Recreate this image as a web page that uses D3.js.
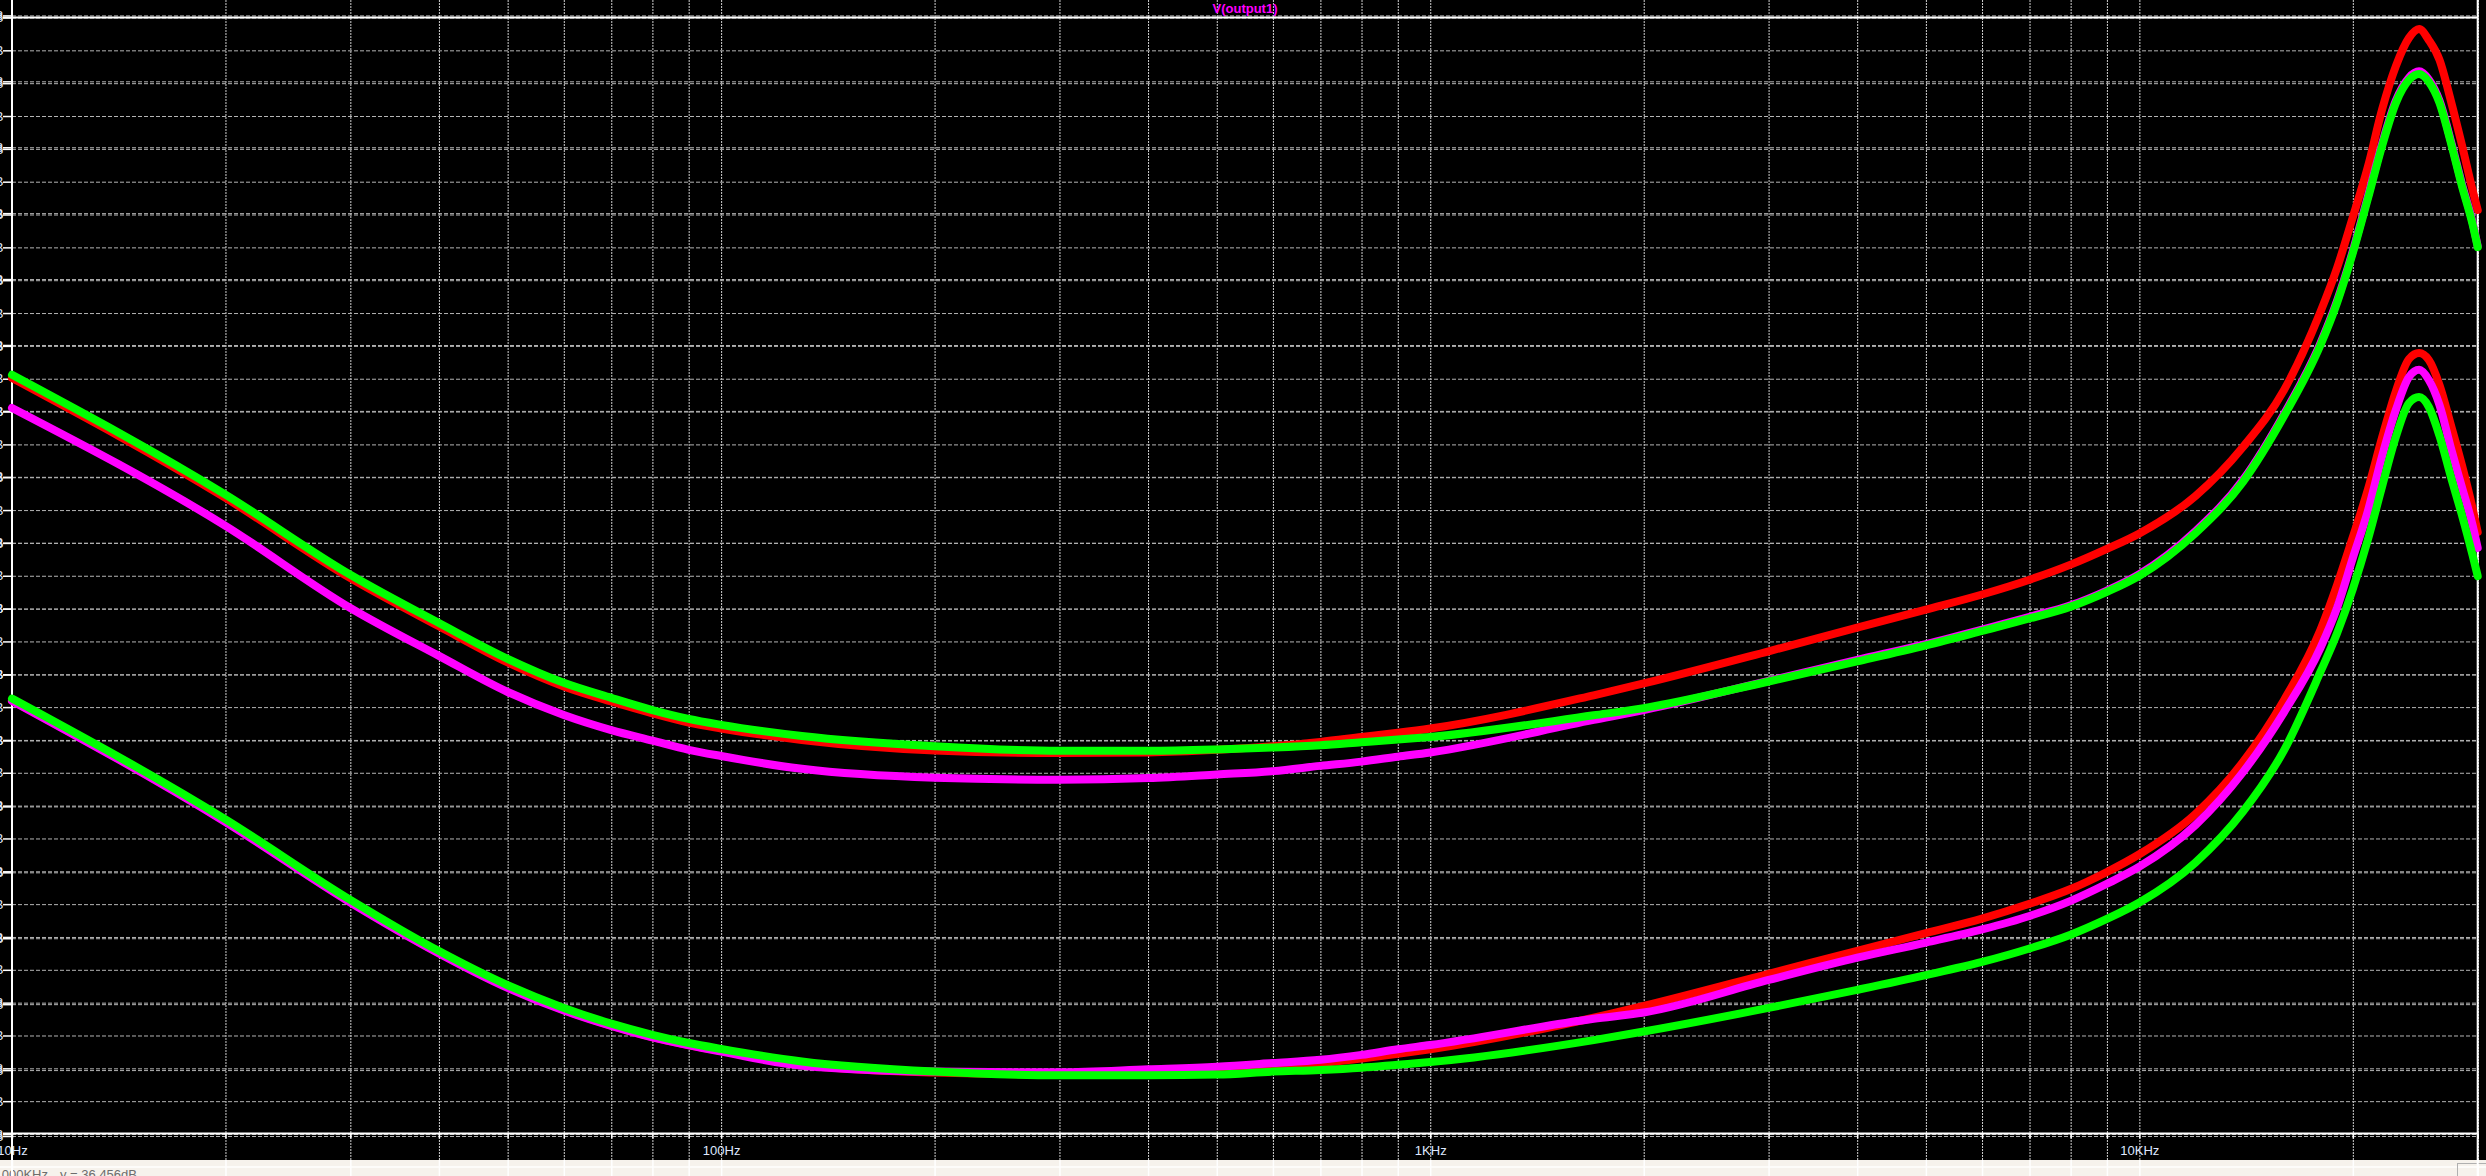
<!DOCTYPE html>
<html lang="en">
<head>
<meta charset="utf-8">
<style>
  body { margin: 0; background: #000; overflow: hidden; }
  svg { display: block; }
  text { font-family: "Liberation Sans", Arial, sans-serif; }
  .domain { display: none; }
  .grid-a line, .grid-b line { stroke: #b4b4b4; stroke-dasharray: 4,2; }
  .grid-v line { stroke: #cfcfcf; stroke-dasharray: 2,1; }
  .ticks line { stroke: #fff; stroke-width: 1.5; }
  .ticks text { fill: #dfe8ff; font-size: 13px; }
  .bar-lines line { stroke: #fff; stroke-width: 1.5; }
</style>
</head>
<body>
<svg width="2486" height="1176"></svg>
<script src="https://d3js.org/d3.v7.min.js"></script>
<script>
// frequency points (Hz)
var freqs = [10, 20, 30, 40, 50, 60, 70, 80, 90, 100, 130, 200, 300, 400, 500, 600, 700, 800, 900, 1000,
  1700, 2000, 3000, 4000, 5000, 6000, 7000, 8000, 9000, 10000, 12000, 14000, 16000, 18000, 19000, 20000,
  21000, 22000, 23000, 24000, 24800, 25600, 26500, 27500, 28500, 29500, 30000]

// magnitude in dB
var upperRed = [41.02, 37.37, 34.93, 33.46, 32.36, 31.63, 31.17, 30.81, 30.53, 30.35, 30.00, 29.68, 29.60, 29.62,
  29.70, 29.81, 29.94, 30.09, 30.22, 30.35, 31.36, 31.72, 32.70, 33.42, 33.97, 34.43, 34.88, 35.34, 35.82, 36.29,
  37.43, 38.92, 40.66, 43.03, 44.37, 45.92, 47.45, 49.21, 50.52, 51.38, 51.65, 51.31, 50.71, 49.46, 48.12, 46.75, 46.14]
var upperMagenta = [40.11, 36.52, 34.02, 32.56, 31.46, 30.76, 30.30, 29.98, 29.70, 29.51, 29.12, 28.85, 28.79, 28.84,
  28.95, 29.05, 29.21, 29.34, 29.49, 29.62, 30.61, 30.91, 31.80, 32.44, 32.92, 33.36, 33.75, 34.10, 34.55, 35.05,
  36.36, 37.92, 39.93, 42.08, 43.37, 44.89, 46.55, 48.17, 49.47, 50.17, 50.36, 50.11, 49.47, 48.24, 46.93, 45.77, 45.04]
var upperGreen = [41.12, 37.47, 35.03, 33.56, 32.47, 31.74, 31.28, 30.91, 30.64, 30.46, 30.12, 29.81, 29.67, 29.67,
  29.71, 29.77, 29.84, 29.93, 30.01, 30.09, 30.75, 30.97, 31.78, 32.39, 32.88, 33.32, 33.70, 34.06, 34.51, 35.00,
  36.30, 37.86, 39.87, 42.02, 43.31, 44.83, 46.48, 48.10, 49.40, 50.10, 50.28, 50.04, 49.40, 48.18, 46.87, 45.71, 45.01]
var lowerRed = [31.20, 27.52, 25.07, 23.51, 22.47, 21.78, 21.30, 20.95, 20.71, 20.53, 20.11, 19.87, 19.81, 19.89,
  20.00, 20.07, 20.16, 20.30, 20.44, 20.58, 21.54, 21.90, 22.88, 23.58, 24.12, 24.56, 25.01, 25.46, 25.98, 26.52,
  27.75, 29.33, 31.22, 33.35, 34.72, 36.18, 37.62, 39.22, 40.62, 41.60, 41.78, 41.57, 40.81, 39.59, 38.37, 37.06, 36.33]
var lowerMagenta = [31.19, 27.50, 25.05, 23.50, 22.45, 21.76, 21.29, 20.94, 20.70, 20.51, 20.08, 19.90, 19.88, 19.97,
  20.05, 20.16, 20.26, 20.41, 20.58, 20.71, 21.51, 21.70, 22.69, 23.37, 23.83, 24.23, 24.64, 25.10, 25.62, 26.14,
  27.41, 29.02, 30.85, 32.80, 34.02, 35.54, 36.97, 38.65, 40.05, 41.05, 41.27, 40.96, 40.20, 38.89, 37.70, 36.55, 35.85]
var lowerGreen = [31.26, 27.58, 25.13, 23.57, 22.53, 21.84, 21.36, 21.02, 20.77, 20.59, 20.21, 19.90, 19.79, 19.79,
  19.81, 19.90, 19.95, 20.02, 20.11, 20.19, 20.86, 21.12, 21.84, 22.39, 22.84, 23.24, 23.65, 24.07, 24.55, 25.05,
  26.27, 27.82, 29.69, 32.07, 33.25, 34.60, 36.10, 37.73, 39.23, 40.26, 40.44, 40.14, 39.26, 38.01, 36.85, 35.63, 34.99]

var xTicks = [10, 100, 1000, 10000]
var xTickLabels = ['10Hz', '100Hz', '1KHz', '10KHz']
var title = 'V(output1)'
var statusX = 'x = 10.000KHz'
var statusY = 'y = 36.456dB'

var W = 2486, H = 1176
var plotLeft = 12, plotRight = 2477.7, plotTop = 17.5, plotBottom = 1134, barTop = 1160

var svg = d3.select('svg')

var x = d3.scaleLog().domain([10, 30000]).range([plotLeft, plotRight])
var y = d3.scaleLinear().domain([18, 52]).range([plotBottom, plotTop])
// second (overlaid) scale whose grid shows as the doubled lines
var y2 = d3.scaleLinear().domain([0, 34]).range([1136, 15.4])

var gridFreqs = []
xTicks.forEach(function (d) {
  for (var k = 1; k < 10; k++) if (d * k <= 30000) gridFreqs.push(d * k)
})
gridFreqs.push(30000)

var yTicks = d3.range(18, 53)
var y2Ticks = d3.range(0, 35, 2)

// status bar
svg.append('rect').attr('x', 0).attr('y', barTop).attr('width', W).attr('height', H - barTop).attr('fill', '#f6f2ec')
svg.append('line').attr('x1', 0).attr('x2', W).attr('y1', 1167).attr('y2', 1167).attr('stroke', '#fff').attr('stroke-width', 1.5)
svg.append('g').attr('class', 'bar-lines').attr('transform', 'translate(0,' + barTop + ')')
  .call(d3.axisBottom(x).tickValues(gridFreqs).tickSize(H - barTop).tickFormat(''))
svg.append('text').attr('x', 48).attr('y', 1179).attr('text-anchor', 'end')
  .attr('fill', '#6d6d6d').style('font-size', '13px').text(statusX)
svg.append('text').attr('x', 60).attr('y', 1179)
  .attr('fill', '#6d6d6d').style('font-size', '13px').text(statusY)
svg.append('rect').attr('x', 2457.5).attr('y', 1163.5).attr('width', 40).attr('height', 20)
  .attr('fill', 'none').attr('stroke', '#b0b0b0')

// vertical grid
svg.append('g').attr('class', 'grid-v').attr('transform', 'translate(0,' + barTop + ')')
  .call(d3.axisBottom(x).tickValues(gridFreqs).tickSize(-barTop).tickFormat(''))

// horizontal grids
svg.append('g').attr('class', 'grid-b').attr('transform', 'translate(' + plotLeft + ',0)')
  .call(d3.axisLeft(y2).tickValues(y2Ticks).tickSize(-(plotRight - plotLeft)).tickFormat(''))
svg.append('g').attr('class', 'grid-a').attr('transform', 'translate(' + plotLeft + ',0)')
  .call(d3.axisLeft(y).tickValues(yTicks).tickSize(-(plotRight - plotLeft)).tickFormat(''))

// left ticks and (clipped) labels
svg.append('g').attr('class', 'ticks').attr('transform', 'translate(' + plotLeft + ',0)')
  .call(d3.axisLeft(y2).tickValues(y2Ticks).tickSize(9).tickPadding(-0.5).tickFormat(function (d) { return d + 'dB' }))
svg.append('g').attr('class', 'ticks').attr('transform', 'translate(' + plotLeft + ',0)')
  .call(d3.axisLeft(y).tickValues(yTicks).tickSize(9).tickPadding(-0.5).tickFormat(function (d) { return d + 'dB' }))

// bottom ticks and labels
svg.append('g').attr('class', 'ticks').attr('transform', 'translate(0,1133.5)')
  .call(d3.axisBottom(x).tickValues(gridFreqs).tickSize(5).tickFormat(''))
svg.append('g').attr('class', 'ticks').attr('transform', 'translate(0,1133.5)')
  .call(d3.axisBottom(x).tickValues(xTicks).tickSize(0).tickPadding(12.5)
    .tickFormat(function (d, i) { return xTickLabels[i] }))

// plot frame
var frame = svg.append('g').attr('stroke', '#fff').attr('stroke-width', 2)
frame.append('line').attr('x1', plotLeft).attr('x2', plotLeft).attr('y1', 0).attr('y2', H)
frame.append('line').attr('x1', plotRight).attr('x2', plotRight).attr('y1', 0).attr('y2', H)
frame.append('line').attr('x1', 3).attr('x2', plotRight).attr('y1', plotTop).attr('y2', plotTop)
frame.append('line').attr('x1', 3).attr('x2', plotRight).attr('y1', 1133.5).attr('y2', 1133.5)

svg.append('text').attr('x', 1245).attr('y', 13).attr('text-anchor', 'middle')
  .attr('fill', '#ff00ff').style('font-size', '13px').style('font-weight', 'bold').text(title)

// traces
var line = d3.line()
  .x(function (d) { return x(d[0]) })
  .y(function (d) { return y(d[1]) })
  .curve(d3.curveMonotoneX)

var traces = [
  [upperRed, '#ff0000'], [upperMagenta, '#ff00ff'], [upperGreen, '#00ff00'],
  [lowerRed, '#ff0000'], [lowerMagenta, '#ff00ff'], [lowerGreen, '#00ff00']
]

svg.append('g').selectAll('path')
  .data(traces)
  .enter().append('path')
    .attr('d', function (t) { return line(freqs.map(function (f, i) { return [f, t[0][i]] })) })
    .attr('fill', 'none')
    .attr('stroke', function (t) { return t[1] })
    .attr('stroke-width', 8)
    .attr('stroke-linecap', 'round')
    .attr('stroke-linejoin', 'round')
</script>
</body>
</html>
